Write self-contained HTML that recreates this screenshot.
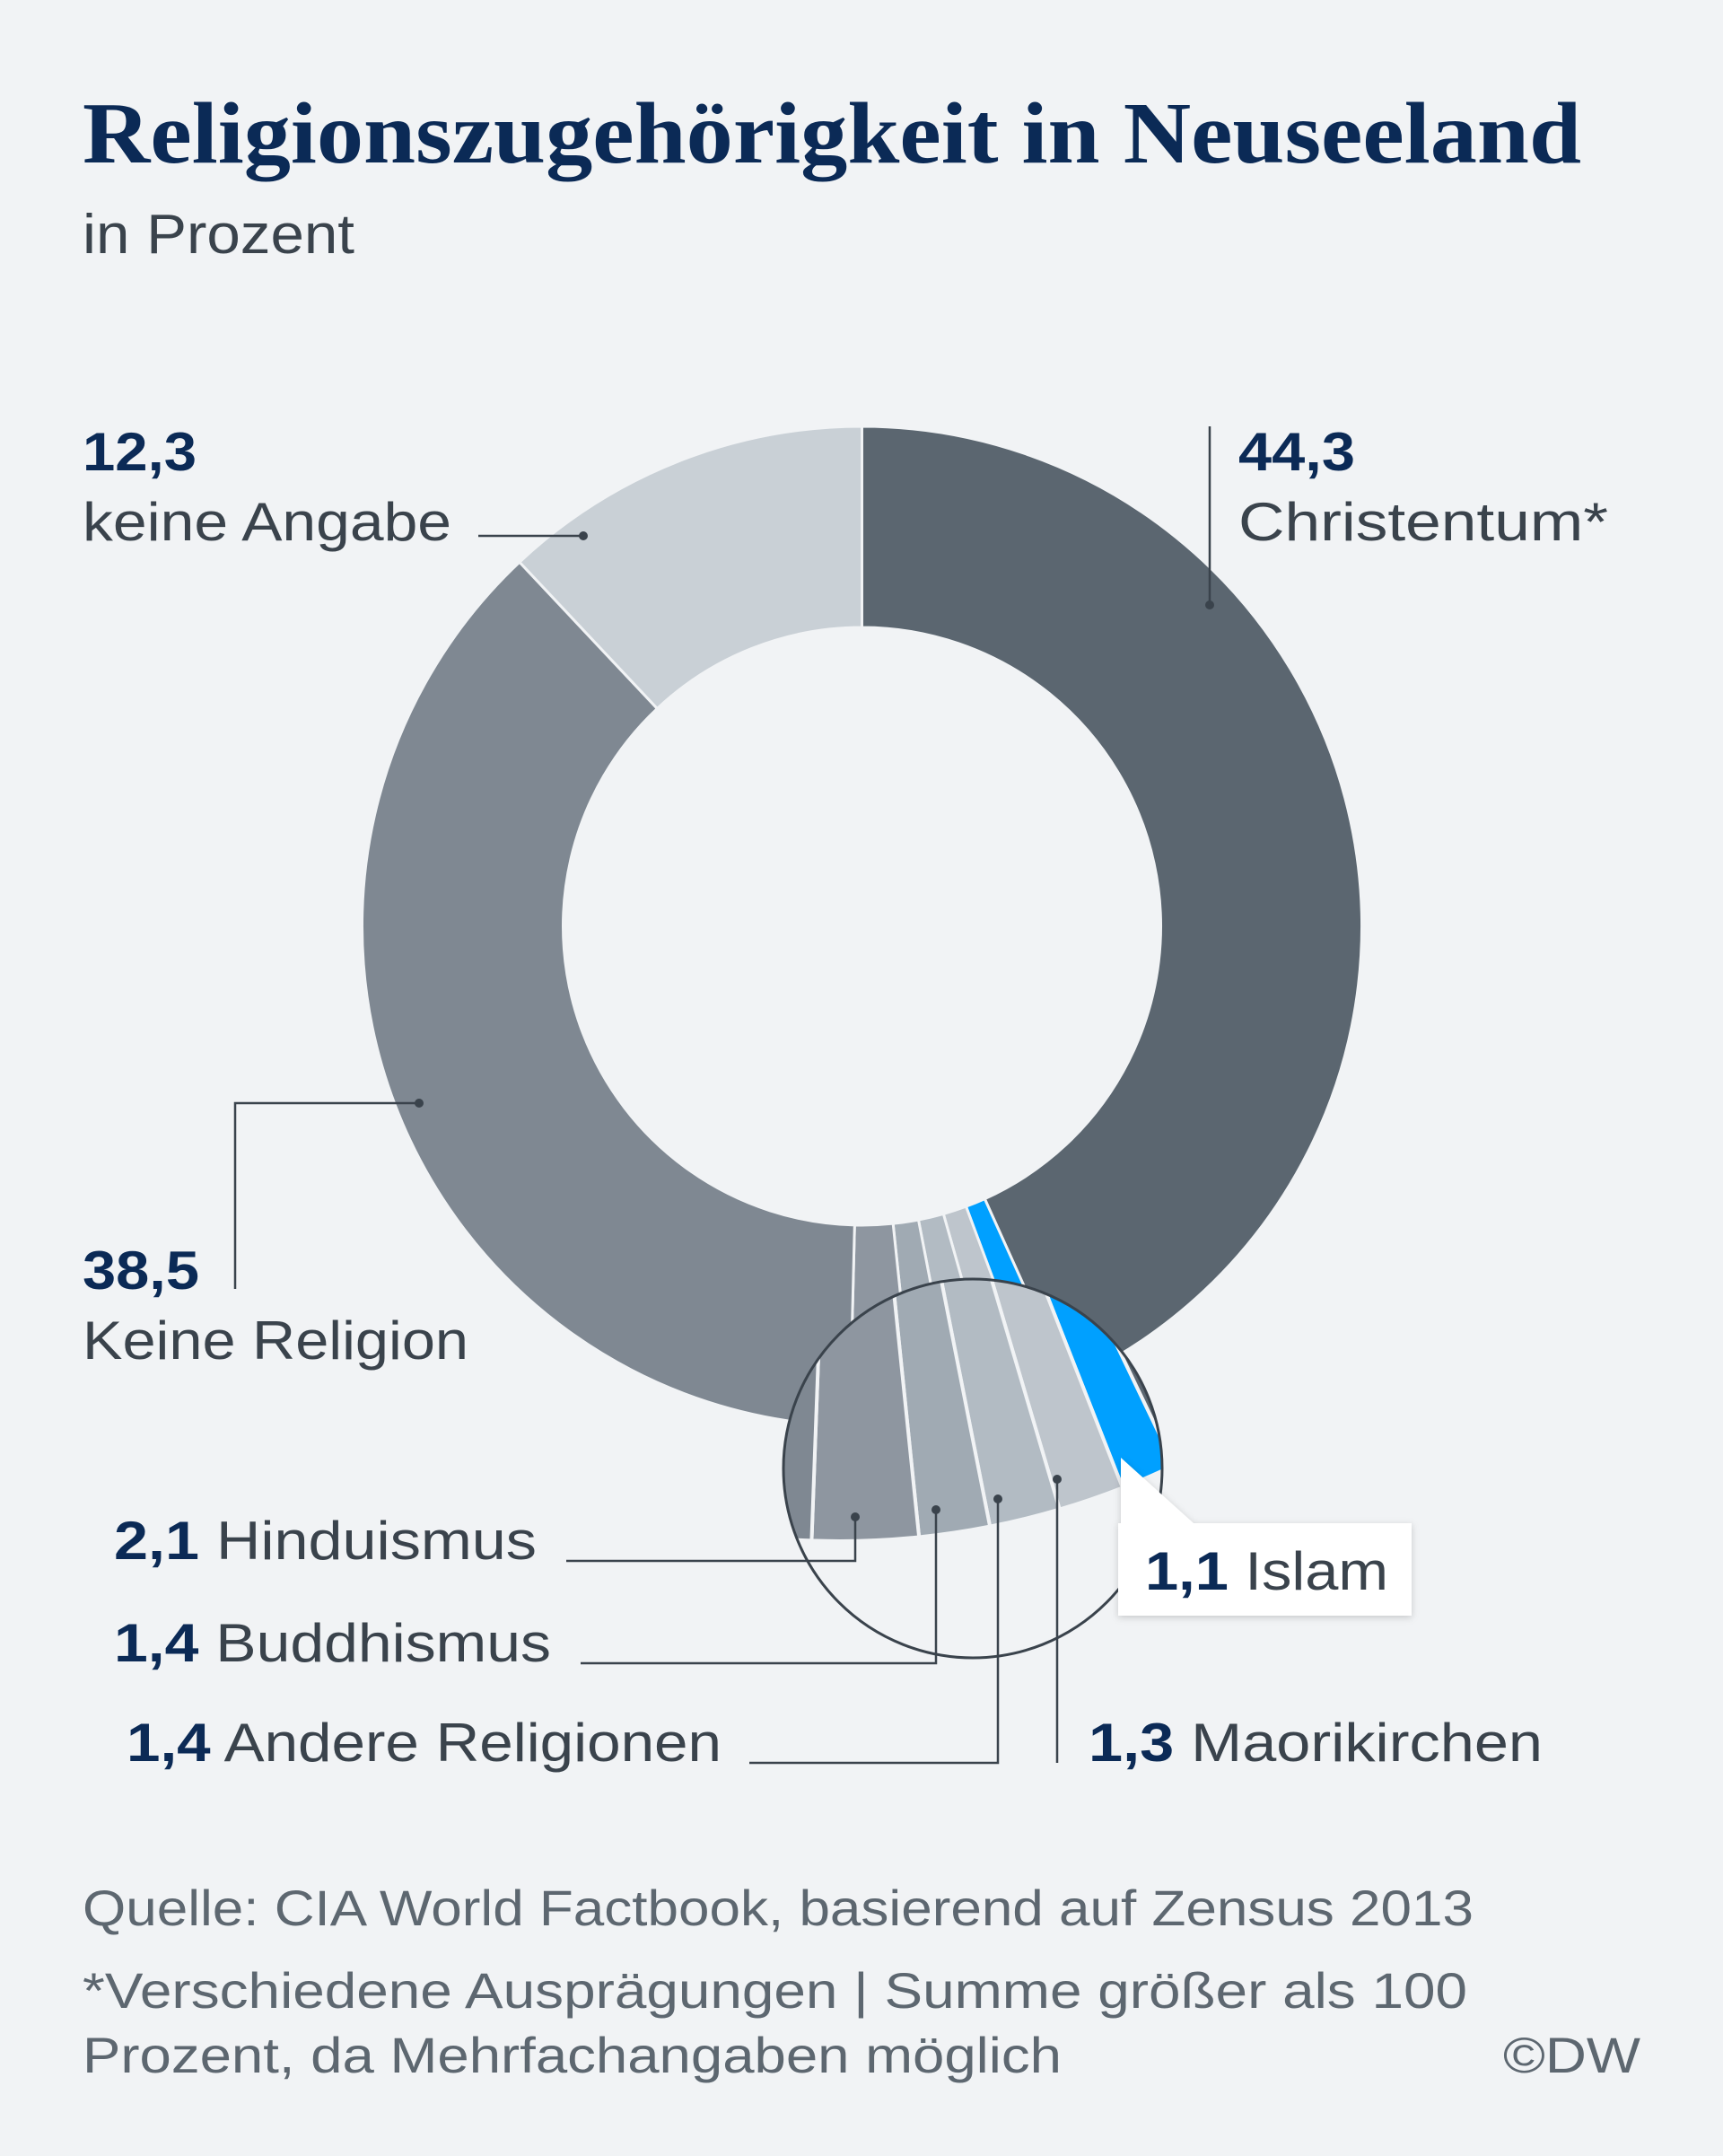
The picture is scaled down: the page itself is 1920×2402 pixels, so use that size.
<!DOCTYPE html>
<html><head><meta charset="utf-8"><style>
html,body{margin:0;padding:0;background:#f1f3f5;}
svg{display:block}
.s{font-family:"Liberation Sans",sans-serif;}
</style></head><body>
<svg id="c" width="1920" height="2402" viewBox="0 0 1920 2402" xmlns="http://www.w3.org/2000/svg">
<rect width="1920" height="2402" fill="#f1f3f5"/>
<text x="92" y="181" font-family="Liberation Serif,serif" font-weight="bold" font-size="98" fill="#0b2a56" textLength="1670" lengthAdjust="spacingAndGlyphs">Religionszugehörigkeit in Neuseeland</text>
<text class="s" x="92" y="282" font-size="62" fill="#3a434c" textLength="303" lengthAdjust="spacingAndGlyphs">in Prozent</text>
<g id="main"></g>
<defs><clipPath id="cp"><circle cx="1084" cy="1636" r="211"/></clipPath>
<filter id="sh" x="-20%" y="-20%" width="140%" height="140%"><feDropShadow dx="0" dy="2" stdDeviation="4" flood-color="#000" flood-opacity="0.18"/></filter></defs>
<g clip-path="url(#cp)"><rect x="860" y="1410" width="450" height="450" fill="#f1f3f5"/><g id="zoom"></g></g>
<circle cx="1084" cy="1636" r="211" fill="none" stroke="#3a434c" stroke-width="3"/>
<g stroke="#3a434c" stroke-width="2.5" fill="none">
<polyline points="533,597 650,597"/>
<polyline points="1348,475 1348,674"/>
<polyline points="262,1436 262,1229 467,1229"/>
<polyline points="631,1739 953,1739 953,1690"/>
<polyline points="647,1853 1043,1853 1043,1682"/>
<polyline points="835,1964 1112,1964 1112,1670"/>
<polyline points="1178,1964 1178,1648"/>
</g>
<g fill="#3a434c"><circle cx="650" cy="597" r="5"/><circle cx="1348" cy="674" r="5"/><circle cx="467" cy="1229" r="5"/><circle cx="953" cy="1690" r="5"/><circle cx="1043" cy="1682" r="5"/><circle cx="1112" cy="1670" r="5"/><circle cx="1178" cy="1648" r="5"/></g>
<g filter="url(#sh)"><path d="M1249,1624 L1330,1697 L1573,1697 L1573,1800 L1246,1800 L1246,1697 L1249,1697 Z" fill="#fff"/></g>
<g class="s" font-size="60">
<text x="92" y="524" font-weight="bold" fill="#0b2a56" textLength="127" lengthAdjust="spacingAndGlyphs">12,3</text>
<text x="92" y="602" fill="#3a434c" textLength="411" lengthAdjust="spacingAndGlyphs">keine Angabe</text>
<text x="1380" y="524" font-weight="bold" fill="#0b2a56" textLength="130" lengthAdjust="spacingAndGlyphs">44,3</text>
<text x="1380" y="602" fill="#3a434c" textLength="412" lengthAdjust="spacingAndGlyphs">Christentum*</text>
<text x="92" y="1436" font-weight="bold" fill="#0b2a56" textLength="130" lengthAdjust="spacingAndGlyphs">38,5</text>
<text x="92" y="1514" fill="#3a434c" textLength="430" lengthAdjust="spacingAndGlyphs">Keine Religion</text>
<text x="127" y="1737" fill="#3a434c" textLength="471" lengthAdjust="spacingAndGlyphs"><tspan font-weight="bold" fill="#0b2a56">2,1</tspan> Hinduismus</text>
<text x="127" y="1851" fill="#3a434c" textLength="487" lengthAdjust="spacingAndGlyphs"><tspan font-weight="bold" fill="#0b2a56">1,4</tspan> Buddhismus</text>
<text x="141" y="1962" fill="#3a434c" textLength="663" lengthAdjust="spacingAndGlyphs"><tspan font-weight="bold" fill="#0b2a56">1,4</tspan> Andere Religionen</text>
<text x="1213" y="1962" fill="#3a434c" textLength="506" lengthAdjust="spacingAndGlyphs"><tspan font-weight="bold" fill="#0b2a56">1,3</tspan> Maorikirchen</text>
<text x="1276" y="1771" fill="#3a434c" textLength="271" lengthAdjust="spacingAndGlyphs"><tspan font-weight="bold" fill="#0b2a56">1,1</tspan> Islam</text>
</g>
<g class="s" font-size="56" fill="#5d6770">
<text x="92" y="2145" textLength="1550" lengthAdjust="spacingAndGlyphs">Quelle: CIA World Factbook, basierend auf Zensus 2013</text>
<text x="92" y="2237" textLength="1543" lengthAdjust="spacingAndGlyphs">*Verschiedene Ausprägungen | Summe größer als 100</text>
<text x="92" y="2309" textLength="1091" lengthAdjust="spacingAndGlyphs">Prozent, da Mehrfachangaben möglich</text>
<text x="1675" y="2309" textLength="153" lengthAdjust="spacingAndGlyphs">©DW</text>
</g>
</svg>
<script>
var vals=[44.3,1.1,1.3,1.4,1.4,2.1,38.5,12.3];
var cols=["#5b6670","#00a0ff","#bec5cc","#b2bbc3","#a0aab3","#8e96a0","#7f8892","#c9d0d6"];
var tot=vals.reduce(function(a,b){return a+b},0);
var NS="http://www.w3.org/2000/svg";
function pt(cx,cy,r,a){var t=a*Math.PI/180;return [cx+r*Math.sin(t),cy-r*Math.cos(t)];}
function arc(cx,cy,R,r,a0,a1){var p1=pt(cx,cy,R,a0),p2=pt(cx,cy,R,a1),p3=pt(cx,cy,r,a1),p4=pt(cx,cy,r,a0);var lg=(a1-a0)>180?1:0;
return "M"+p1+" A"+R+","+R+" 0 "+lg+" 1 "+p2+" L"+p3+" A"+r+","+r+" 0 "+lg+" 0 "+p4+" Z";}
function draw(g,cx,cy,R,r,map,sw){var a=0;for(var i=0;i<vals.length;i++){var b=a+vals[i]/tot*360;
var p=document.createElementNS(NS,"path");p.setAttribute("d",arc(cx,cy,R,r,map(a),map(b)));p.setAttribute("fill",cols[i]);
p.setAttribute("stroke","#f1f3f5");p.setAttribute("stroke-width",sw);g.appendChild(p);a=b;}}
draw(document.getElementById("main"),960.5,1032,557,333,function(x){return x},3);
var s0=44.3/tot*360,s1=51.6/tot*360;
function zm(x){if(x<=s0)return x*154.4/s0;if(x>=s1)return 182.1+(x-s1)*(360-182.1)/(360-s1);return 154.4+(x-s0)*(182.1-154.4)/(s1-s0);}
draw(document.getElementById("zoom"),936,855,862,513,zm,4);
</script>
</body></html>
